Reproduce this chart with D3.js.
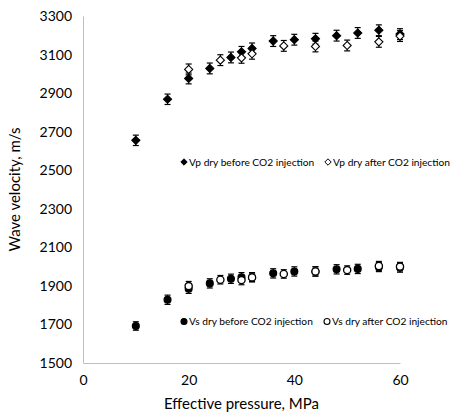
<!doctype html>
<html>
<head>
<meta charset="utf-8">
<title>Wave velocity vs effective pressure</title>
<script src="https://d3js.org/d3.v7.min.js"></script>
<style>
body { margin: 0; background: #fff; }
text { font-family: Lato, "Open Sans", sans-serif; fill: #000; }
</style>
</head>
<body>
<svg class="chart"></svg>
<script>
// values
var vpBeforeP   = [10, 16, 20, 24, 28, 30, 32, 36, 40, 44, 48, 52, 56, 60];
var vpBeforeV   = [2655, 2868, 2976, 3028, 3085, 3114, 3132, 3170, 3177, 3182, 3198, 3212, 3226, 3206];
var vpBeforeErr = [27, 27, 28, 28, 28, 28, 28, 28, 28, 28, 28, 28, 28, 28];

var vpAfterP   = [20, 26, 30, 32, 38, 44, 50, 56, 60];
var vpAfterV   = [3023, 3071, 3083, 3104, 3145, 3142, 3147, 3166, 3196];
var vpAfterErr = [28, 28, 28, 28, 28, 28, 28, 28, 28];

var vsBeforeP   = [10, 16, 20, 24, 28, 30, 32, 36, 40, 44, 48, 52, 56, 60];
var vsBeforeV   = [1692, 1828, 1885, 1913, 1937, 1945, 1945, 1965, 1975, 1975, 1986, 1988, 1998, 1995];
var vsBeforeErr = [22, 24, 24, 24, 24, 24, 24, 24, 24, 24, 24, 24, 24, 24];

var vsAfterP   = [20, 26, 30, 32, 38, 44, 50, 56, 60];
var vsAfterV   = [1899, 1932, 1930, 1944, 1962, 1975, 1982, 2003, 2000];
var vsAfterErr = [24, 22, 24, 22, 22, 24, 22, 24, 22];

var xTicks = [0, 20, 40, 60];
var yTicks = d3.range(1500, 3301, 200);

var legendVp = ["Vp dry before CO2 injection", "Vp dry after CO2 injection"];
var legendVs = ["Vs dry before CO2 injection", "Vs dry after CO2 injection"];

var width = 453, height = 416,
    margin = {top: 16, right: 53, bottom: 53, left: 83};

var svg = d3.select(".chart").attr("width", width).attr("height", height);

var x = d3.scaleLinear().domain([0, 60]).range([margin.left, width - margin.right]);
var y = d3.scaleLinear().domain([1500, 3300]).range([height - margin.bottom, margin.top]);

function zip(p, v, e) {
    return p.map((d, i) => ({p: d, v: v[i], e: e[i]}));
}

// axes
svg.append("g")
    .attr("transform", `translate(0,${y(1500)})`)
    .call(d3.axisBottom(x).tickValues(xTicks).tickFormat(d3.format("d")).tickSize(0).tickPadding(12))
    .call(g => g.select(".domain").attr("stroke", "#bfbfbf"))
    .selectAll("text").style("font-size", "14px");

svg.append("g")
    .attr("transform", `translate(${x(0)},0)`)
    .call(d3.axisLeft(y).tickValues(yTicks).tickFormat(d3.format("d")).tickSize(0).tickPadding(11))
    .call(g => g.select(".domain").attr("stroke", "#bfbfbf"))
    .selectAll("text").style("font-size", "14px");

svg.append("text")
    .attr("x", (x(0) + x(60)) / 2).attr("y", 409)
    .attr("text-anchor", "middle").style("font-size", "15px")
    .text("Effective pressure, MPa");

svg.append("text")
    .attr("transform", `translate(20,${(y(1500) + y(3300)) / 2}) rotate(-90)`)
    .attr("text-anchor", "middle").style("font-size", "15px")
    .text("Wave velocity, m/s");

var diamond = d3.symbol().type(d3.symbolDiamond2).size(42);

function series(data, shape, filled) {
    var g = svg.append("g");
    var pt = g.selectAll("g").data(data).enter().append("g");
    pt.append("line")
        .attr("x1", d => x(d.p)).attr("x2", d => x(d.p))
        .attr("y1", d => y(d.v - d.e)).attr("y2", d => y(d.v + d.e))
        .attr("stroke", "#000").attr("stroke-width", 1);
    [-1, 1].forEach(s => {
        pt.append("line")
            .attr("x1", d => x(d.p) - 3).attr("x2", d => x(d.p) + 3)
            .attr("y1", d => y(d.v + s * d.e)).attr("y2", d => y(d.v + s * d.e))
            .attr("stroke", "#000").attr("stroke-width", 1.2);
    });
    if (shape == "diamond") {
        pt.append("path")
            .attr("d", diamond)
            .attr("transform", d => `translate(${x(d.p)},${y(d.v)})`)
            .attr("fill", filled ? "#000" : "#fff")
            .attr("stroke", "#000").attr("stroke-width", 1.1);
    } else {
        pt.append("circle")
            .attr("cx", d => x(d.p)).attr("cy", d => y(d.v))
            .attr("r", filled ? 3.4 : 3.6)
            .attr("fill", filled ? "#000" : "#fff")
            .attr("stroke", "#000").attr("stroke-width", 1.3);
    }
}

series(zip(vpBeforeP, vpBeforeV, vpBeforeErr), "diamond", true);
series(zip(vpAfterP, vpAfterV, vpAfterErr), "diamond", false);
series(zip(vsBeforeP, vsBeforeV, vsBeforeErr), "circle", true);
series(zip(vsAfterP, vsAfterV, vsAfterErr), "circle", false);

// legends inside plot
function legend(labels, shape, ly, positions) {
    labels.forEach((t, i) => {
        var lx = positions[i], filled = i == 0;
        if (shape == "diamond") {
            svg.append("path")
                .attr("d", d3.symbol().type(d3.symbolDiamond2).size(26))
                .attr("transform", `translate(${lx},${ly})`)
                .attr("fill", filled ? "#000" : "#fff")
                .attr("stroke", "#000").attr("stroke-width", 1);
        } else {
            svg.append("circle").attr("cx", lx).attr("cy", ly).attr("r", 3)
                .attr("fill", filled ? "#000" : "#fff")
                .attr("stroke", "#000").attr("stroke-width", 1.1);
        }
        svg.append("text").attr("x", lx + 5).attr("y", ly + 3.5)
            .style("font-size", "10.2px").text(t);
    });
}

legend(legendVp, "diamond", 162, [184, 328]);
legend(legendVs, "circle", 321.5, [184, 327]);
</script>
</body>
</html>
